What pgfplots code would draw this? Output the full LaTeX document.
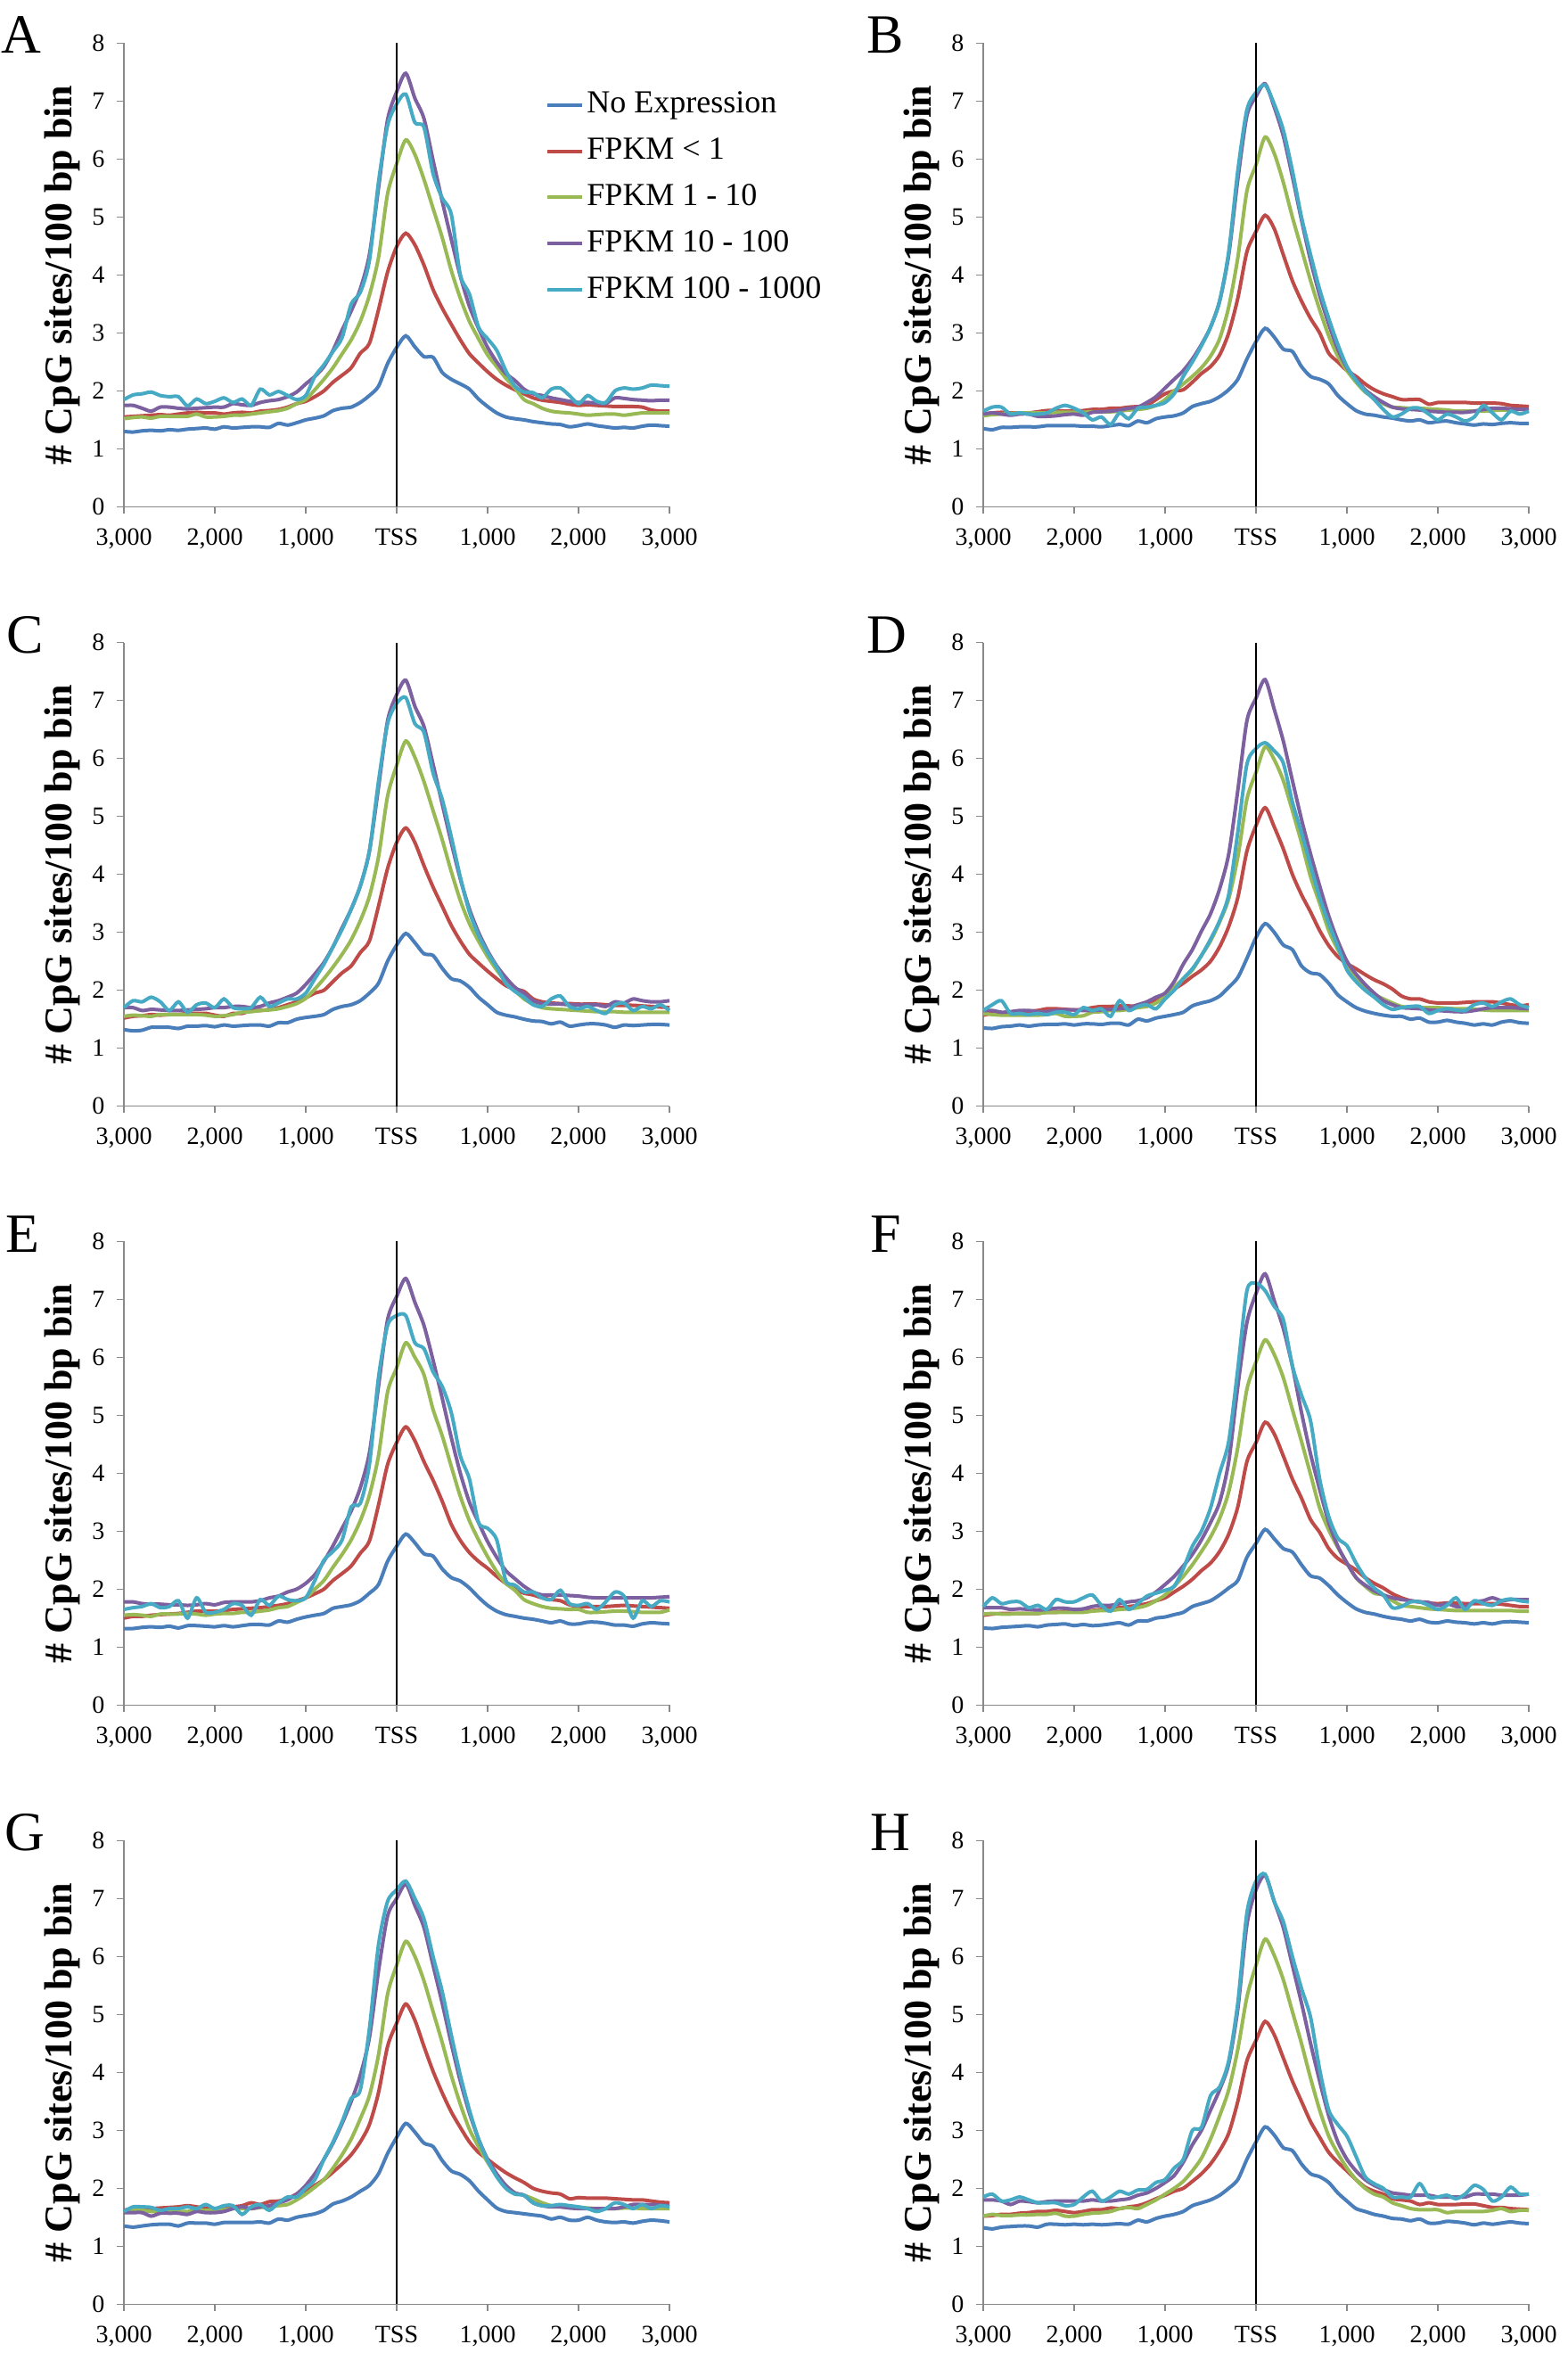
\documentclass[border=0pt]{standalone}
\usepackage{pgfplots}
\usepackage{pgfplotstable}
\pgfplotsset{compat=1.18}
\usepackage{fontspec}
\setmainfont{Liberation Serif}

\definecolor{cNE}{HTML}{4A7EBB}
\definecolor{cA}{HTML}{BE4B48}
\definecolor{cB}{HTML}{98B954}
\definecolor{cC}{HTML}{7D60A0}
\definecolor{cD}{HTML}{46AAC5}
\definecolor{axgray}{HTML}{898989}

% columns: x, No Expression, FPKM<1, FPKM 1-10, FPKM 10-100, FPKM 100-1000
\pgfplotstableread{
x ne a b c d
-3000 1.30 1.55 1.52 1.75 1.85
-2900 1.29 1.56 1.54 1.75 1.93
-2800 1.31 1.57 1.55 1.70 1.95
-2700 1.32 1.58 1.53 1.65 1.98
-2600 1.31 1.59 1.56 1.72 1.92
-2500 1.33 1.58 1.56 1.72 1.90
-2400 1.32 1.60 1.56 1.70 1.90
-2300 1.34 1.62 1.56 1.69 1.74
-2200 1.35 1.63 1.60 1.70 1.86
-2100 1.36 1.62 1.55 1.71 1.78
-2000 1.34 1.62 1.55 1.72 1.82
-1900 1.38 1.60 1.56 1.72 1.88
-1800 1.36 1.62 1.58 1.78 1.80
-1700 1.37 1.63 1.58 1.76 1.86
-1600 1.38 1.62 1.60 1.75 1.75
-1500 1.38 1.65 1.62 1.80 2.03
-1400 1.37 1.66 1.64 1.83 1.93
-1300 1.44 1.68 1.66 1.85 1.99
-1200 1.41 1.72 1.70 1.90 1.92
-1100 1.45 1.78 1.78 1.98 1.85
-1000 1.50 1.82 1.85 2.12 1.92
-900 1.53 1.90 2.02 2.25 2.25
-800 1.57 2.00 2.20 2.42 2.45
-700 1.66 2.15 2.40 2.70 2.68
-600 1.70 2.27 2.64 3.05 2.92
-500 1.72 2.40 2.88 3.38 3.50
-400 1.80 2.65 3.20 3.76 3.70
-300 1.92 2.82 3.65 4.35 4.25
-200 2.08 3.40 4.30 5.50 5.60
-100 2.47 4.05 5.40 6.68 6.58
0 2.75 4.49 5.92 7.16 6.95
100 2.95 4.72 6.33 7.48 7.12
200 2.76 4.52 6.08 7.05 6.63
300 2.59 4.17 5.65 6.70 6.55
400 2.58 3.75 5.15 5.98 5.75
500 2.32 3.43 4.65 5.28 5.33
600 2.20 3.15 4.08 4.62 5.05
700 2.12 2.88 3.60 3.98 4.00
800 2.03 2.64 3.20 3.46 3.67
900 1.86 2.48 2.90 3.08 3.10
1000 1.73 2.33 2.62 2.75 2.90
1100 1.62 2.20 2.42 2.50 2.70
1200 1.55 2.10 2.22 2.30 2.35
1300 1.52 2.02 2.05 2.18 2.08
1400 1.50 1.95 1.85 2.03 1.98
1500 1.47 1.88 1.78 1.95 1.97
1600 1.45 1.84 1.70 1.92 1.88
1700 1.43 1.82 1.65 1.88 2.03
1800 1.42 1.80 1.63 1.85 2.05
1900 1.38 1.77 1.62 1.82 1.92
2000 1.40 1.75 1.60 1.80 1.78
2100 1.43 1.76 1.58 1.80 1.92
2200 1.40 1.75 1.59 1.79 1.82
2300 1.38 1.74 1.60 1.78 1.80
2400 1.36 1.73 1.60 1.88 2.00
2500 1.37 1.73 1.58 1.87 2.05
2600 1.36 1.73 1.60 1.85 2.03
2700 1.39 1.72 1.62 1.84 2.05
2800 1.41 1.67 1.62 1.83 2.10
2900 1.40 1.65 1.62 1.84 2.09
3000 1.39 1.65 1.62 1.84 2.08
}\tA

\pgfplotstableread{
x ne a b c d
-3000 1.35 1.60 1.57 1.60 1.65
-2900 1.33 1.62 1.59 1.62 1.72
-2800 1.37 1.63 1.60 1.60 1.72
-2700 1.37 1.62 1.61 1.58 1.60
-2600 1.38 1.62 1.62 1.60 1.62
-2500 1.38 1.62 1.62 1.60 1.60
-2400 1.38 1.64 1.62 1.56 1.60
-2300 1.40 1.66 1.62 1.56 1.62
-2200 1.40 1.66 1.63 1.57 1.70
-2100 1.40 1.65 1.63 1.59 1.75
-2000 1.40 1.65 1.63 1.60 1.70
-1900 1.39 1.66 1.63 1.58 1.62
-1800 1.39 1.68 1.64 1.63 1.50
-1700 1.38 1.68 1.64 1.64 1.55
-1600 1.40 1.70 1.64 1.65 1.42
-1500 1.42 1.70 1.65 1.67 1.62
-1400 1.40 1.72 1.67 1.70 1.52
-1300 1.48 1.73 1.68 1.72 1.70
-1200 1.45 1.75 1.70 1.80 1.72
-1100 1.52 1.85 1.75 1.90 1.75
-1000 1.55 1.95 1.85 2.05 1.80
-900 1.57 2.00 2.00 2.20 1.95
-800 1.62 2.02 2.12 2.35 2.25
-700 1.73 2.15 2.25 2.55 2.50
-600 1.78 2.30 2.40 2.80 2.78
-500 1.82 2.42 2.60 3.10 3.10
-400 1.90 2.62 2.90 3.55 3.55
-300 2.02 3.00 3.45 4.35 4.40
-200 2.20 3.60 4.30 5.65 5.80
-100 2.55 4.40 5.45 6.75 6.85
0 2.85 4.75 5.90 7.08 7.15
100 3.08 5.03 6.38 7.30 7.28
200 2.93 4.80 6.10 6.90 6.95
300 2.72 4.35 5.60 6.40 6.50
400 2.68 3.90 5.00 5.70 5.80
500 2.42 3.55 4.45 4.95 5.00
600 2.25 3.25 3.90 4.25 4.35
700 2.20 3.00 3.40 3.65 3.75
800 2.12 2.65 2.95 3.15 3.25
900 1.92 2.50 2.60 2.72 2.80
1000 1.78 2.35 2.35 2.40 2.42
1100 1.66 2.25 2.15 2.20 2.18
1200 1.60 2.12 1.98 2.02 2.00
1300 1.58 2.02 1.88 1.90 1.85
1400 1.55 1.95 1.78 1.80 1.68
1500 1.53 1.90 1.72 1.72 1.55
1600 1.50 1.85 1.71 1.69 1.60
1700 1.48 1.85 1.70 1.68 1.70
1800 1.50 1.85 1.70 1.67 1.70
1900 1.45 1.77 1.69 1.65 1.60
2000 1.47 1.80 1.68 1.64 1.50
2100 1.48 1.80 1.67 1.63 1.60
2200 1.45 1.80 1.65 1.63 1.55
2300 1.43 1.80 1.65 1.63 1.48
2400 1.41 1.79 1.65 1.65 1.55
2500 1.43 1.79 1.65 1.68 1.75
2600 1.42 1.79 1.66 1.70 1.62
2700 1.44 1.78 1.67 1.70 1.50
2800 1.45 1.75 1.67 1.69 1.65
2900 1.44 1.74 1.68 1.68 1.60
3000 1.44 1.73 1.68 1.68 1.65
}\tB

\pgfplotstableread{
x ne a b c d
-3000 1.32 1.52 1.55 1.70 1.70
-2900 1.30 1.55 1.57 1.70 1.82
-2800 1.31 1.56 1.56 1.65 1.80
-2700 1.36 1.58 1.55 1.67 1.88
-2600 1.36 1.57 1.58 1.66 1.80
-2500 1.36 1.58 1.58 1.65 1.65
-2400 1.34 1.58 1.58 1.65 1.80
-2300 1.38 1.60 1.58 1.66 1.62
-2200 1.38 1.60 1.58 1.67 1.75
-2100 1.39 1.60 1.57 1.68 1.78
-2000 1.37 1.57 1.55 1.70 1.70
-1900 1.40 1.55 1.56 1.70 1.85
-1800 1.38 1.60 1.58 1.72 1.70
-1700 1.39 1.60 1.62 1.72 1.68
-1600 1.40 1.65 1.63 1.70 1.70
-1500 1.40 1.65 1.65 1.72 1.88
-1400 1.38 1.67 1.66 1.78 1.72
-1300 1.44 1.70 1.68 1.82 1.78
-1200 1.44 1.75 1.72 1.88 1.85
-1100 1.50 1.80 1.77 1.95 1.85
-1000 1.53 1.87 1.86 2.10 1.95
-900 1.55 1.95 2.02 2.28 2.20
-800 1.58 2.00 2.20 2.48 2.45
-700 1.67 2.15 2.40 2.75 2.75
-600 1.72 2.30 2.62 3.08 3.05
-500 1.75 2.42 2.87 3.40 3.40
-400 1.82 2.65 3.20 3.80 3.80
-300 1.95 2.85 3.62 4.40 4.40
-200 2.12 3.45 4.30 5.50 5.60
-100 2.50 4.10 5.35 6.65 6.60
0 2.78 4.55 5.88 7.10 6.95
100 2.98 4.80 6.30 7.35 7.05
200 2.82 4.55 6.02 6.90 6.60
300 2.63 4.15 5.60 6.55 6.45
400 2.60 3.78 5.10 5.90 5.75
500 2.38 3.45 4.60 5.22 5.30
600 2.20 3.12 4.05 4.55 4.65
700 2.16 2.85 3.55 3.92 3.95
800 2.05 2.62 3.15 3.40 3.35
900 1.88 2.47 2.85 3.00 2.95
1000 1.75 2.33 2.58 2.68 2.65
1100 1.62 2.20 2.35 2.42 2.40
1200 1.57 2.08 2.15 2.22 2.12
1300 1.54 2.02 2.00 2.05 1.98
1400 1.50 1.98 1.85 1.95 1.88
1500 1.47 1.85 1.76 1.82 1.75
1600 1.46 1.80 1.70 1.77 1.72
1700 1.42 1.78 1.68 1.76 1.85
1800 1.45 1.77 1.67 1.76 1.90
1900 1.38 1.77 1.66 1.75 1.72
2000 1.40 1.76 1.65 1.75 1.68
2100 1.42 1.76 1.64 1.75 1.72
2200 1.42 1.76 1.63 1.75 1.65
2300 1.40 1.75 1.63 1.72 1.60
2400 1.36 1.74 1.63 1.80 1.75
2500 1.40 1.74 1.62 1.78 1.78
2600 1.39 1.74 1.62 1.85 1.65
2700 1.40 1.73 1.62 1.82 1.72
2800 1.41 1.72 1.62 1.80 1.68
2900 1.41 1.71 1.62 1.80 1.75
3000 1.40 1.70 1.62 1.82 1.65
}\tC

\pgfplotstableread{
x ne a b c d
-3000 1.35 1.57 1.60 1.65 1.65
-2900 1.34 1.60 1.58 1.65 1.75
-2800 1.37 1.60 1.57 1.62 1.82
-2700 1.38 1.62 1.57 1.63 1.60
-2600 1.40 1.63 1.57 1.65 1.60
-2500 1.38 1.64 1.57 1.65 1.58
-2400 1.40 1.65 1.57 1.63 1.60
-2300 1.41 1.68 1.58 1.63 1.58
-2200 1.41 1.68 1.60 1.65 1.62
-2100 1.42 1.67 1.55 1.66 1.62
-2000 1.40 1.66 1.55 1.66 1.58
-1900 1.42 1.67 1.56 1.65 1.70
-1800 1.42 1.70 1.62 1.65 1.65
-1700 1.41 1.72 1.63 1.66 1.68
-1600 1.43 1.72 1.65 1.67 1.55
-1500 1.43 1.73 1.65 1.68 1.82
-1400 1.40 1.73 1.67 1.70 1.65
-1300 1.50 1.72 1.70 1.75 1.72
-1200 1.47 1.75 1.72 1.80 1.75
-1100 1.52 1.82 1.78 1.88 1.68
-1000 1.55 1.92 1.90 1.95 1.85
-900 1.58 2.02 2.05 2.15 2.00
-800 1.62 2.12 2.20 2.45 2.20
-700 1.73 2.24 2.35 2.70 2.37
-600 1.78 2.35 2.60 3.02 2.60
-500 1.82 2.50 2.85 3.32 2.88
-400 1.90 2.75 3.18 3.75 3.20
-300 2.05 3.10 3.58 4.35 3.65
-200 2.22 3.60 4.30 5.45 4.73
-100 2.55 4.40 5.30 6.65 5.90
0 2.91 4.84 5.76 7.04 6.17
100 3.15 5.15 6.20 7.36 6.27
200 3.00 4.82 5.98 6.85 6.13
300 2.78 4.44 5.62 6.30 5.92
400 2.70 4.00 5.10 5.62 5.25
500 2.42 3.65 4.55 4.95 4.72
600 2.30 3.35 3.96 4.35 4.15
700 2.27 3.03 3.50 3.80 3.60
800 2.12 2.77 3.03 3.28 3.15
900 1.92 2.58 2.70 2.85 2.75
1000 1.80 2.46 2.45 2.50 2.35
1100 1.70 2.37 2.20 2.28 2.15
1200 1.64 2.27 2.05 2.10 2.00
1300 1.60 2.18 1.93 1.95 1.88
1400 1.57 2.11 1.85 1.82 1.75
1500 1.55 2.02 1.78 1.75 1.67
1600 1.55 1.90 1.72 1.70 1.70
1700 1.50 1.85 1.70 1.69 1.72
1800 1.52 1.85 1.70 1.68 1.72
1900 1.45 1.80 1.70 1.66 1.60
2000 1.45 1.78 1.70 1.65 1.65
2100 1.48 1.78 1.69 1.64 1.68
2200 1.45 1.78 1.68 1.63 1.66
2300 1.43 1.79 1.68 1.63 1.65
2400 1.40 1.80 1.67 1.65 1.75
2500 1.42 1.80 1.66 1.68 1.78
2600 1.40 1.80 1.65 1.70 1.72
2700 1.45 1.78 1.65 1.70 1.80
2800 1.47 1.75 1.65 1.70 1.85
2900 1.44 1.73 1.65 1.69 1.75
3000 1.43 1.75 1.65 1.68 1.70
}\tD

\pgfplotstableread{
x ne a b c d
-3000 1.32 1.50 1.55 1.78 1.65
-2900 1.32 1.53 1.56 1.78 1.68
-2800 1.34 1.53 1.55 1.75 1.70
-2700 1.35 1.55 1.53 1.74 1.75
-2600 1.34 1.56 1.57 1.74 1.68
-2500 1.36 1.57 1.57 1.73 1.70
-2400 1.33 1.58 1.57 1.73 1.80
-2300 1.37 1.60 1.58 1.72 1.50
-2200 1.37 1.62 1.57 1.73 1.85
-2100 1.36 1.62 1.55 1.75 1.60
-2000 1.35 1.62 1.57 1.73 1.60
-1900 1.37 1.63 1.58 1.77 1.65
-1800 1.35 1.65 1.58 1.78 1.75
-1700 1.37 1.66 1.60 1.78 1.72
-1600 1.39 1.67 1.60 1.78 1.55
-1500 1.39 1.68 1.62 1.80 1.82
-1400 1.38 1.70 1.64 1.85 1.72
-1300 1.45 1.72 1.68 1.88 1.88
-1200 1.43 1.75 1.70 1.95 1.82
-1100 1.48 1.80 1.77 2.00 1.80
-1000 1.52 1.85 1.85 2.10 1.85
-900 1.55 1.92 2.00 2.25 2.15
-800 1.58 2.00 2.15 2.48 2.50
-700 1.67 2.15 2.38 2.75 2.65
-600 1.70 2.27 2.60 3.05 2.85
-500 1.73 2.40 2.85 3.35 3.42
-400 1.80 2.62 3.18 3.75 3.48
-300 1.93 2.83 3.62 4.35 4.15
-200 2.08 3.45 4.30 5.50 5.65
-100 2.48 4.15 5.40 6.65 6.55
0 2.74 4.53 5.82 7.05 6.72
100 2.95 4.80 6.25 7.36 6.72
200 2.80 4.56 6.00 6.95 6.25
300 2.61 4.20 5.70 6.55 6.15
400 2.57 3.88 5.10 5.95 5.75
500 2.35 3.52 4.65 5.30 5.50
600 2.20 3.12 4.12 4.62 5.05
700 2.14 2.84 3.60 4.00 4.30
800 2.02 2.63 3.18 3.50 3.90
900 1.86 2.48 2.85 3.15 3.15
1000 1.72 2.36 2.56 2.82 3.05
1100 1.62 2.22 2.30 2.55 2.85
1200 1.56 2.10 2.10 2.32 2.15
1300 1.53 2.00 1.98 2.18 2.07
1400 1.50 1.93 1.82 2.05 1.95
1500 1.48 1.90 1.75 1.95 1.95
1600 1.45 1.85 1.70 1.90 1.85
1700 1.42 1.82 1.67 1.90 1.82
1800 1.45 1.80 1.66 1.90 1.98
1900 1.40 1.73 1.65 1.89 1.75
2000 1.40 1.70 1.65 1.88 1.72
2100 1.43 1.70 1.60 1.86 1.75
2200 1.43 1.70 1.60 1.85 1.65
2300 1.41 1.70 1.61 1.85 1.78
2400 1.38 1.71 1.62 1.85 1.95
2500 1.38 1.72 1.62 1.85 1.88
2600 1.36 1.71 1.61 1.85 1.50
2700 1.40 1.70 1.60 1.85 1.80
2800 1.42 1.69 1.60 1.85 1.70
2900 1.41 1.68 1.60 1.86 1.80
3000 1.40 1.67 1.64 1.87 1.78
}\tE

\pgfplotstableread{
x ne a b c d
-3000 1.33 1.55 1.57 1.68 1.70
-2900 1.32 1.57 1.58 1.68 1.85
-2800 1.34 1.58 1.57 1.68 1.75
-2700 1.35 1.58 1.57 1.65 1.78
-2600 1.36 1.58 1.58 1.66 1.78
-2500 1.37 1.58 1.58 1.65 1.68
-2400 1.35 1.58 1.58 1.64 1.72
-2300 1.38 1.60 1.60 1.65 1.65
-2200 1.39 1.60 1.60 1.67 1.82
-2100 1.40 1.62 1.60 1.67 1.78
-2000 1.37 1.62 1.60 1.65 1.78
-1900 1.39 1.63 1.60 1.66 1.85
-1800 1.37 1.63 1.62 1.70 1.90
-1700 1.38 1.65 1.63 1.72 1.72
-1600 1.40 1.67 1.63 1.72 1.62
-1500 1.42 1.68 1.65 1.75 1.82
-1400 1.38 1.70 1.66 1.78 1.65
-1300 1.45 1.72 1.68 1.80 1.75
-1200 1.45 1.75 1.72 1.85 1.88
-1100 1.50 1.80 1.80 1.95 1.93
-1000 1.52 1.85 1.90 2.08 1.98
-900 1.56 1.95 2.05 2.22 2.05
-800 1.60 2.05 2.22 2.40 2.35
-700 1.70 2.17 2.42 2.60 2.74
-600 1.75 2.32 2.65 2.85 3.00
-500 1.80 2.45 2.90 3.15 3.40
-400 1.90 2.65 3.22 3.50 4.00
-300 2.02 2.95 3.68 4.20 4.55
-200 2.15 3.42 4.45 5.50 5.80
-100 2.55 4.20 5.45 6.60 7.15
0 2.79 4.53 5.92 7.10 7.28
100 3.03 4.88 6.30 7.44 7.15
200 2.87 4.68 6.05 6.98 6.88
300 2.70 4.30 5.65 6.50 6.65
400 2.64 3.90 5.10 5.85 5.85
500 2.42 3.57 4.55 5.05 5.35
600 2.23 3.20 3.98 4.33 4.90
700 2.19 2.98 3.40 3.72 3.90
800 2.06 2.70 3.02 3.15 3.25
900 1.90 2.53 2.72 2.74 2.88
1000 1.77 2.43 2.45 2.45 2.75
1100 1.66 2.33 2.20 2.20 2.45
1200 1.60 2.20 2.05 2.07 2.20
1300 1.57 2.10 1.93 1.97 2.02
1400 1.53 2.02 1.90 1.90 1.90
1500 1.50 1.92 1.80 1.85 1.68
1600 1.48 1.85 1.72 1.82 1.70
1700 1.45 1.80 1.70 1.80 1.78
1800 1.48 1.78 1.68 1.78 1.78
1900 1.43 1.76 1.66 1.77 1.72
2000 1.42 1.75 1.65 1.72 1.65
2100 1.45 1.76 1.64 1.75 1.72
2200 1.43 1.76 1.63 1.70 1.85
2300 1.42 1.75 1.63 1.70 1.65
2400 1.40 1.75 1.63 1.78 1.80
2500 1.42 1.75 1.63 1.80 1.75
2600 1.40 1.75 1.63 1.85 1.72
2700 1.43 1.74 1.63 1.80 1.80
2800 1.44 1.72 1.63 1.82 1.83
2900 1.43 1.70 1.62 1.82 1.80
3000 1.42 1.70 1.62 1.82 1.78
}\tF

\pgfplotstableread{
x ne a b c d
-3000 1.35 1.62 1.60 1.58 1.60
-2900 1.33 1.65 1.62 1.58 1.68
-2800 1.35 1.65 1.62 1.58 1.68
-2700 1.37 1.65 1.60 1.52 1.67
-2600 1.38 1.66 1.60 1.57 1.62
-2500 1.38 1.67 1.62 1.57 1.65
-2400 1.35 1.68 1.60 1.57 1.65
-2300 1.40 1.70 1.60 1.55 1.68
-2200 1.40 1.68 1.62 1.60 1.65
-2100 1.40 1.65 1.62 1.58 1.72
-2000 1.38 1.65 1.62 1.58 1.65
-1900 1.41 1.67 1.63 1.60 1.70
-1800 1.41 1.68 1.65 1.65 1.70
-1700 1.41 1.70 1.65 1.68 1.55
-1600 1.41 1.75 1.65 1.65 1.68
-1500 1.42 1.72 1.67 1.68 1.72
-1400 1.40 1.77 1.68 1.70 1.62
-1300 1.47 1.78 1.70 1.75 1.75
-1200 1.45 1.82 1.72 1.80 1.85
-1100 1.50 1.90 1.80 1.90 1.85
-1000 1.53 1.95 1.90 2.05 2.00
-900 1.56 2.05 2.02 2.25 2.15
-800 1.62 2.15 2.15 2.50 2.50
-700 1.73 2.28 2.35 2.78 2.80
-600 1.78 2.42 2.58 3.12 3.15
-500 1.85 2.58 2.85 3.50 3.55
-400 1.95 2.80 3.20 3.95 3.70
-300 2.05 3.10 3.60 4.60 4.75
-200 2.25 3.65 4.30 5.75 6.20
-100 2.60 4.45 5.35 6.70 6.95
0 2.88 4.85 5.85 7.00 7.15
100 3.12 5.18 6.26 7.25 7.30
200 2.97 4.90 6.00 6.88 7.00
300 2.78 4.45 5.58 6.50 6.65
400 2.72 4.02 5.05 5.85 6.00
500 2.48 3.65 4.52 5.20 5.40
600 2.30 3.32 3.95 4.50 4.65
700 2.24 3.05 3.45 3.85 3.95
800 2.13 2.80 3.02 3.30 3.35
900 1.95 2.62 2.72 2.85 2.85
1000 1.80 2.50 2.45 2.50 2.48
1100 1.66 2.38 2.22 2.25 2.20
1200 1.60 2.27 2.05 2.05 2.00
1300 1.58 2.18 1.92 1.92 1.90
1400 1.56 2.10 1.88 1.88 1.88
1500 1.54 2.00 1.82 1.75 1.75
1600 1.52 1.95 1.75 1.70 1.70
1700 1.47 1.92 1.70 1.68 1.70
1800 1.50 1.90 1.68 1.68 1.72
1900 1.45 1.82 1.67 1.66 1.70
2000 1.45 1.84 1.67 1.65 1.68
2100 1.50 1.83 1.66 1.65 1.65
2200 1.45 1.83 1.65 1.65 1.60
2300 1.42 1.83 1.65 1.65 1.65
2400 1.41 1.82 1.65 1.65 1.75
2500 1.42 1.81 1.66 1.68 1.72
2600 1.40 1.80 1.66 1.72 1.65
2700 1.43 1.80 1.65 1.72 1.72
2800 1.45 1.78 1.65 1.72 1.65
2900 1.44 1.76 1.65 1.71 1.70
3000 1.42 1.75 1.65 1.70 1.68
}\tG

\pgfplotstableread{
x ne a b c d
-3000 1.32 1.52 1.52 1.80 1.85
-2900 1.30 1.53 1.55 1.80 1.90
-2800 1.33 1.55 1.53 1.78 1.78
-2700 1.34 1.55 1.53 1.72 1.80
-2600 1.35 1.57 1.54 1.78 1.85
-2500 1.35 1.58 1.54 1.77 1.80
-2400 1.33 1.60 1.55 1.75 1.75
-2300 1.38 1.60 1.55 1.77 1.75
-2200 1.38 1.62 1.57 1.78 1.75
-2100 1.37 1.60 1.52 1.78 1.70
-2000 1.38 1.58 1.52 1.78 1.72
-1900 1.37 1.60 1.55 1.78 1.85
-1800 1.38 1.63 1.57 1.80 1.95
-1700 1.37 1.63 1.58 1.78 1.78
-1600 1.38 1.66 1.60 1.78 1.85
-1500 1.39 1.65 1.65 1.80 1.95
-1400 1.38 1.68 1.67 1.82 1.90
-1300 1.45 1.70 1.65 1.88 1.97
-1200 1.42 1.75 1.72 1.92 1.98
-1100 1.48 1.82 1.80 2.00 2.10
-1000 1.52 1.88 1.90 2.10 2.15
-900 1.55 1.95 2.00 2.22 2.35
-800 1.60 2.00 2.12 2.45 2.50
-700 1.70 2.12 2.30 2.75 3.00
-600 1.75 2.25 2.52 3.00 3.05
-500 1.80 2.42 2.85 3.35 3.60
-400 1.88 2.65 3.25 3.70 3.75
-300 2.00 2.95 3.70 4.15 4.20
-200 2.15 3.50 4.40 5.10 5.20
-100 2.50 4.20 5.30 6.55 6.75
0 2.80 4.55 5.85 7.15 7.30
100 3.06 4.88 6.30 7.40 7.42
200 2.92 4.65 6.02 6.95 6.95
300 2.70 4.25 5.60 6.50 6.60
400 2.65 3.85 5.05 5.85 6.00
500 2.42 3.50 4.50 5.20 5.45
600 2.25 3.15 3.90 4.50 4.95
700 2.20 2.88 3.35 3.85 4.05
800 2.10 2.62 2.90 3.25 3.35
900 1.92 2.45 2.60 2.80 3.10
1000 1.78 2.30 2.35 2.50 2.90
1100 1.65 2.15 2.15 2.30 2.55
1200 1.60 2.02 2.00 2.15 2.20
1300 1.55 1.95 1.90 2.05 2.08
1400 1.52 1.90 1.85 1.98 2.00
1500 1.48 1.82 1.75 1.92 1.85
1600 1.47 1.80 1.70 1.90 1.85
1700 1.44 1.78 1.65 1.88 1.85
1800 1.47 1.72 1.63 1.88 2.08
1900 1.40 1.75 1.63 1.88 1.85
2000 1.40 1.72 1.63 1.85 1.85
2100 1.43 1.72 1.58 1.85 1.88
2200 1.42 1.72 1.60 1.85 1.82
2300 1.40 1.73 1.60 1.85 1.90
2400 1.37 1.73 1.60 1.90 2.05
2500 1.40 1.70 1.60 1.90 1.98
2600 1.38 1.67 1.62 1.90 1.78
2700 1.40 1.67 1.65 1.88 1.85
2800 1.42 1.65 1.60 1.88 2.02
2900 1.40 1.64 1.62 1.88 1.90
3000 1.39 1.63 1.62 1.90 1.90
}\tH

\pgfplotsset{
  panel/.style={
    scale only axis, width=306pt, height=260pt,
    xmin=-3000, xmax=3000, ymin=0, ymax=8,
    axis lines*=left,
    axis line style={draw=axgray, line width=0.8pt},
    tick style={draw=axgray, line width=0.8pt},
    tick align=outside, major tick length=3.8pt,
    xtick={-3000,-2000,-1000,0,1000,2000,3000},
    xticklabels={{3,000},{2,000},{1,000},{TSS},{1,000},{2,000},{3,000}},
    ytick={0,1,2,3,4,5,6,7,8},
    /pgf/number format/assume math mode=true,
    tick label style={font=\fontsize{14}{16}\selectfont, text=black},
    xticklabel style={yshift=-5pt},
    yticklabel style={xshift=-3.5pt},
    ylabel={\# CpG sites/100 bp bin},
    ylabel style={font=\bfseries\fontsize{22}{24}\selectfont,
      at={(axis description cs:-0.1127,0.5)}, anchor=center},
    clip=false,
  },
  ser/.style={line width=2pt, smooth, tension=0.45, mark=none},
}

\newcommand{\tssline}{\addplot[black, line width=0.6pt, forget plot] coordinates {(0,0) (0,8)};}
\newcommand{\series}[1]{%
  \addplot[ser, cNE] table[x=x, y=ne] {#1};
  \addplot[ser, cA] table[x=x, y=a] {#1};
  \addplot[ser, cB] table[x=x, y=b] {#1};
  \addplot[ser, cC] table[x=x, y=c] {#1};
  \addplot[ser, cD] table[x=x, y=d] {#1};
  \tssline}

\begin{document}
\begin{tikzpicture}
\path[use as bounding box] (0,0) rectangle (879pt,-1328.5pt);

\begin{axis}[panel, at={(69.5pt,-284.2pt)}, anchor=south west,
  legend style={at={(axis description cs:0.773,0.90)}, anchor=north west,
    draw=none, fill=none, inner sep=0pt, font=\fontsize{18}{20}\selectfont,
    row sep=8.9pt, column sep=1.5pt,
    nodes={inner sep=0pt, text height=13pt, text depth=4pt}},
  legend cell align=left,
  legend image code/.code={\draw[#1] (0pt,0pt) -- (19.5pt,0pt);}]
  \addplot[ser, cNE] table[x=x, y=ne] {\tA}; \addlegendentry{No Expression}
  \addplot[ser, cA] table[x=x, y=a] {\tA}; \addlegendentry{FPKM < 1}
  \addplot[ser, cB] table[x=x, y=b] {\tA}; \addlegendentry{FPKM 1 - 10}
  \addplot[ser, cC] table[x=x, y=c] {\tA}; \addlegendentry{FPKM 10 - 100}
  \addplot[ser, cD] table[x=x, y=d] {\tA}; \addlegendentry{FPKM 100 - 1000}
  \tssline
\end{axis}
\begin{axis}[panel, at={(551.5pt,-284.2pt)}, anchor=south west]
  \series{\tB}
\end{axis}
\begin{axis}[panel, at={(69.5pt,-620.3pt)}, anchor=south west]
  \series{\tC}
\end{axis}
\begin{axis}[panel, at={(551.5pt,-620.3pt)}, anchor=south west]
  \series{\tD}
\end{axis}
\begin{axis}[panel, at={(69.5pt,-956.15pt)}, anchor=south west]
  \series{\tE}
\end{axis}
\begin{axis}[panel, at={(551.5pt,-956.15pt)}, anchor=south west]
  \series{\tF}
\end{axis}
\begin{axis}[panel, at={(69.5pt,-1292.15pt)}, anchor=south west]
  \series{\tG}
\end{axis}
\begin{axis}[panel, at={(551.5pt,-1292.15pt)}, anchor=south west]
  \series{\tH}
\end{axis}

\begin{scope}[every node/.style={anchor=base west, inner sep=0pt, font=\fontsize{31}{31}\selectfont}]
\node at (0.5pt,-29.5pt) {A};
\node at (486pt,-29.5pt) {B};
\node at (3.5pt,-366pt) {C};
\node at (486pt,-366pt) {D};
\node at (3pt,-702.3pt) {E};
\node at (488pt,-702.3pt) {F};
\node at (2.5pt,-1037.5pt) {G};
\node at (488pt,-1037.5pt) {H};
\end{scope}
\end{tikzpicture}
\end{document}
